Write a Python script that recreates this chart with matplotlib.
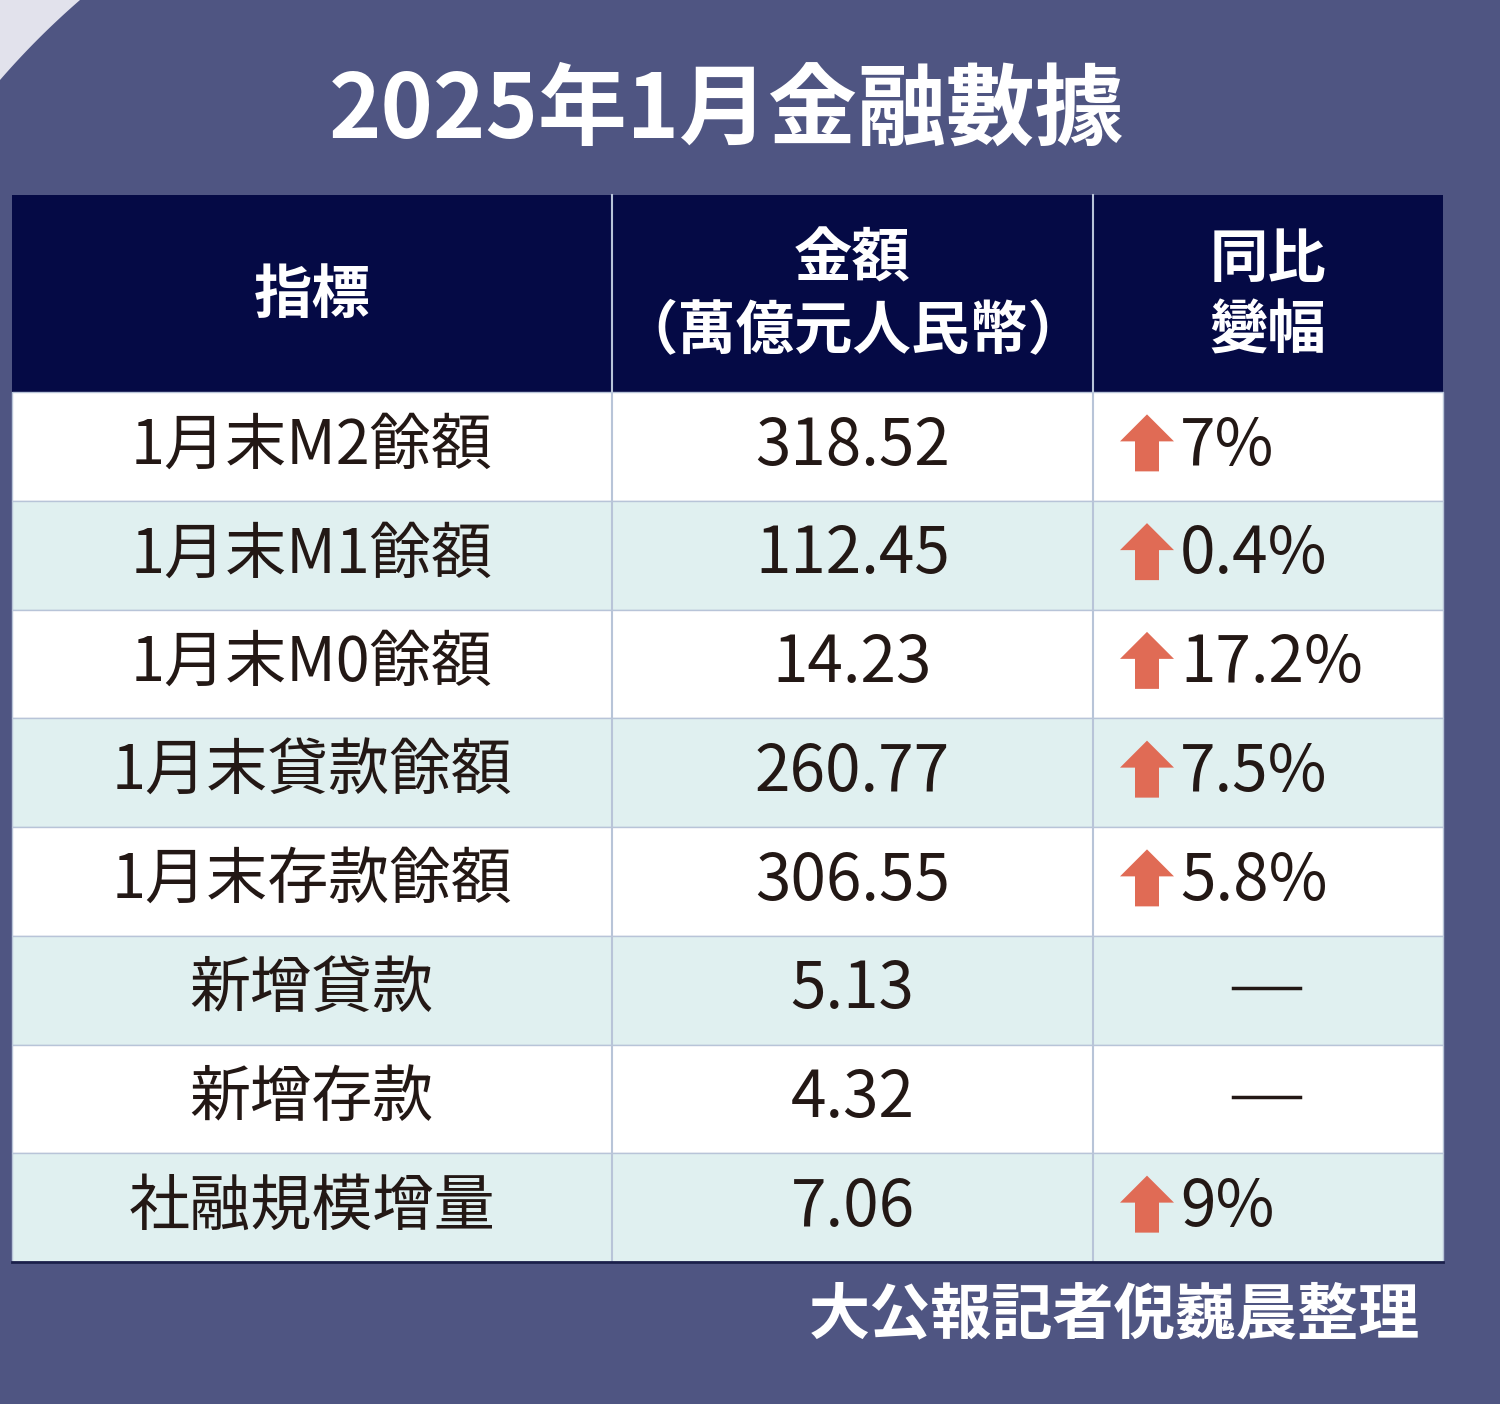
import matplotlib
matplotlib.use("Agg")
import matplotlib.pyplot as plt
import numpy as np
from matplotlib.patches import Rectangle, Polygon

title = "2025年1月金融數據"
headers = ["指標", "金額\n（萬億元人民幣）", "同比\n變幅"]
indicators = ["1月末M2餘額", "1月末M1餘額", "1月末M0餘額", "1月末貸款餘額",
              "1月末存款餘額", "新增貸款", "新增存款", "社融規模增量"]
amounts = ["318.52", "112.45", "14.23", "260.77", "306.55", "5.13", "4.32", "7.06"]
yoy = ["7%", "0.4%", "17.2%", "7.5%", "5.8%", None, None, "9%"]
source = "大公報記者倪巍晨整理"

FONT = ["Noto Sans CJK TC", "Noto Sans CJK JP", "Noto Sans CJK SC", "DejaVu Sans"]
BG = "#4f5582"
NAVY = "#050a45"
ALT = "#e0f0f0"
TXT = "#231815"
RED = "#e06b55"

fig = plt.figure(figsize=(15, 14.04), dpi=100)
fig.patch.set_facecolor(BG)
ax = fig.add_axes([0, 0, 1, 1])
ax.set_xlim(0, 1500)
ax.set_ylim(1404, 0)
ax.axis("off")

# light corner outside a big arc
c, r = 600, np.hypot(520, 600)
th = np.linspace(np.arctan2(-600, 80 - 600), np.arctan2(80 - 600, -600), 50)
arc = np.column_stack([c + r * np.cos(th), c + r * np.sin(th)])
ax.add_patch(Polygon(np.vstack([[[0, 0]], arc]), closed=True, fc="#e2e2ec", ec="none"))

ax.text(727, 112, title, fontsize=64, fontweight="bold", color="white",
        ha="center", va="center", family=FONT)

x0, x1, x2, x3 = 12, 612, 1093, 1443
cols = [(x0, x1), (x1, x2), (x2, x3)]
hy0, hy1 = 195, 392
rh = (1262 - hy1) / len(indicators)

ax.add_patch(Rectangle((x0, hy0), x3 - x0, hy1 - hy0, fc=NAVY, ec="none"))
for (a, b), h in zip(cols, headers):
    ax.text((a + b) / 2, (hy0 + hy1) / 2 + 2, h, fontsize=42, fontweight="bold",
            color="white", ha="center", va="center", family=FONT, linespacing=1.25)

for i, (name, amt, pct) in enumerate(zip(indicators, amounts, yoy)):
    y = hy1 + i * rh
    ax.add_patch(Rectangle((x0, y), x3 - x0, rh, fc="white" if i % 2 == 0 else ALT,
                           ec="#b8c4d8", lw=1))
    yc = y + rh / 2
    ax.text((x0 + x1) / 2, yc, name, fontsize=44, color=TXT, ha="center", va="center", family=FONT)
    ax.text((x1 + x2) / 2, yc, amt, fontsize=46, color=TXT, ha="center", va="center", family=FONT)
    if pct is None:
        ax.plot([1233, 1300], [yc - 2, yc - 2], color=TXT, lw=2.5)
    else:
        ax.add_patch(Polygon([(1120, yc - 5), (1147, yc - 32), (1174, yc - 5), (1159, yc - 5),
                              (1159, yc + 25), (1135, yc + 25), (1135, yc - 5)],
                             closed=True, fc=RED, ec="none"))
        ax.text(1180, yc, pct, fontsize=46, color=TXT, ha="left", va="center", family=FONT)

for x in (x1, x2):
    ax.plot([x, x], [hy0, 1262], color="#b8c4d8", lw=1.5)
ax.plot([x0, x3], [1262, 1262], color="#1a1f4a", lw=2)

ax.text(1420, 1316, source, fontsize=44, fontweight="bold", color="white",
        ha="right", va="center", family=FONT)

fig.savefig("out.png", dpi=100, facecolor=fig.get_facecolor())
